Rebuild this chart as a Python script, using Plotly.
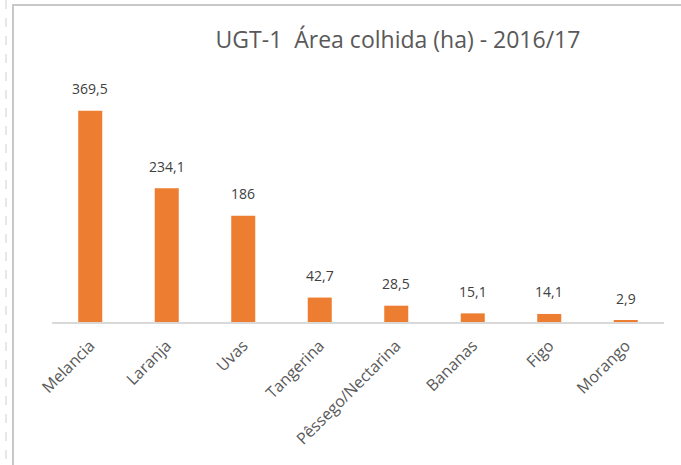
import plotly.graph_objects as go

categories = ["Melancia", "Laranja", "Uvas", "Tangerina", "Pêssego/Nectarina", "Bananas", "Figo", "Morango"]
values = [369.5, 234.1, 186, 42.7, 28.5, 15.1, 14.1, 2.9]
labels = ["369,5", "234,1", "186", "42,7", "28,5", "15,1", "14,1", "2,9"]

W, H = 681, 465
L, R, T, B = 52, 17, 60, 143
pw, ph = W - L - R, H - T - B

def px(x):
    return (x - L) / pw

def py(y):
    return (H - B - y) / ph

FONT = "Open Sans, sans-serif"

fig = go.Figure(go.Bar(
    x=categories, y=values,
    marker=dict(color="#ED7D31", line=dict(width=0)),
    cliponaxis=False,
    hoverinfo="skip",
))

annotations = [
    dict(x=c, y=v, text=t, xref="x", yref="y", showarrow=False,
         yanchor="middle", yshift=22,
         font=dict(size=14, color="#404040", family=FONT))
    for c, v, t in zip(categories, values, labels)
]

shapes = [
    dict(type="line", xref="paper", yref="paper", x0=px(12), x1=px(681), y0=py(5), y1=py(5),
         line=dict(color="#c8c8c8", width=2)),
    dict(type="line", xref="paper", yref="paper", x0=px(13), x1=px(13), y0=py(5), y1=py(465),
         line=dict(color="#c8c8c8", width=2)),
    dict(type="line", xref="paper", yref="paper", x0=px(6), x1=px(6), y0=py(0), y1=py(465),
         line=dict(color="#d0d0d0", width=1, dash="dash")),
]

fig.update_layout(
    width=W, height=H,
    margin=dict(l=L, r=R, t=T, b=B, autoexpand=False),
    paper_bgcolor="white", plot_bgcolor="white",
    bargap=0.686,
    showlegend=False,
    title=dict(text="UGT-1  Área colhida (ha) - 2016/17", x=398 / W, xanchor="center",
               y=1 - 40 / H, yanchor="middle", automargin=False,
               font=dict(size=23, color="#595959", family=FONT)),
    shapes=shapes,
    annotations=annotations,
)
fig.update_xaxes(showline=True, linecolor="#d9d9d9", linewidth=2, tickangle=-45,
                 tickfont=dict(size=16, color="#595959", family=FONT),
                 ticklabelstandoff=6,
                 ticks="", showgrid=False, automargin=False)
fig.update_yaxes(range=[0, 458.2], visible=False, showgrid=False, zeroline=False, automargin=False)

fig.write_html("out.html", config={"displayModeBar": False},
               post_script="document.body.style.margin='0';")
